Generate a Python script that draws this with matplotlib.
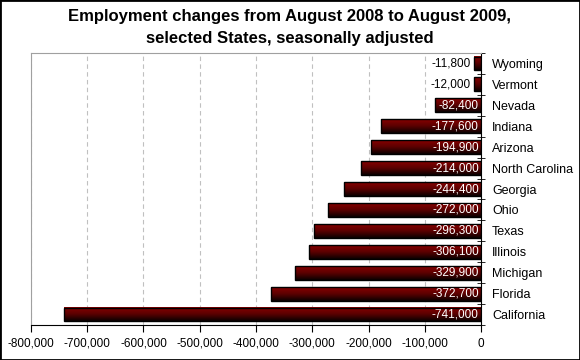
import numpy as np
import matplotlib
matplotlib.use("Agg")
import matplotlib.pyplot as plt
from matplotlib.colors import LinearSegmentedColormap
from matplotlib.patches import Rectangle

states = ['California', 'Florida', 'Michigan', 'Illinois', 'Texas', 'Ohio', 'Georgia',
          'North Carolina', 'Arizona', 'Indiana', 'Nevada', 'Vermont', 'Wyoming']
changes = [-741000, -372700, -329900, -306100, -296300, -272000, -244400,
           -214000, -194900, -177600, -82400, -12000, -11800]

plt.rcParams['font.family'] = ['Liberation Sans', 'DejaVu Sans']

fig = plt.figure(figsize=(5.8, 3.6), dpi=100)
ax = fig.add_axes([0.0534, 0.0972, 0.776, 0.7556])

cmap = LinearSegmentedColormap.from_list('bar', ['#0a0000', '#5a0000', '#880000'])
grad = np.linspace(0, 1, 64).reshape(-1, 1)
h = 0.66
for i, v in enumerate(changes):
    ax.imshow(grad, extent=[v, 0, i - h / 2, i + h / 2], origin='lower',
              aspect='auto', cmap=cmap, zorder=2)
    ax.add_patch(Rectangle((v, i - h / 2), -v, h, fill=False, edgecolor='black',
                           linewidth=1.0, zorder=3))
    label = f"{v:,}"
    if v < -50000:
        ax.text(-4000, i, label, ha='right', va='center', color='white',
                fontsize=8.5, zorder=4)
    else:
        ax.text(v - 6000, i, label, ha='right', va='center', color='black',
                fontsize=8.5, zorder=4)

ax.set_xlim(-800000, 0)
ax.set_ylim(-0.5, len(states) - 0.5)
ax.set_xticks(np.arange(-800000, 1, 100000))
ax.set_xticklabels([f"{t:,}" for t in np.arange(-800000, 1, 100000)], fontsize=8.5)
ax.xaxis.grid(True, linestyle=(0, (4, 3)), color='#c0c0c0', linewidth=0.8, zorder=0)
ax.set_axisbelow(True)

ax.yaxis.tick_right()
ax.set_yticks(range(len(states)))
ax.set_yticklabels(states, fontsize=9)
ax.set_yticks(np.arange(-0.5, len(states), 1), minor=True)
ax.tick_params(axis='y', which='major', length=0, pad=8)
ax.tick_params(axis='y', which='minor', length=6, direction='inout', color='black')
ax.tick_params(axis='x', length=5, color='black', pad=4)

ax.spines['left'].set_color('#a0a0a0')
ax.spines['top'].set_color('#a0a0a0')
ax.spines['right'].set_color('black')
ax.spines['bottom'].set_color('black')

fig.text(0.5, 0.975, "Employment changes from August 2008 to August 2009,\nselected States, seasonally adjusted",
         ha='center', va='top', fontsize=12, fontweight='bold', linespacing=1.6)

fig.patches.append(Rectangle((0, 0), 1, 1, transform=fig.transFigure, fill=False,
                             edgecolor='black', linewidth=2))

fig.savefig('out.png', dpi=100)
